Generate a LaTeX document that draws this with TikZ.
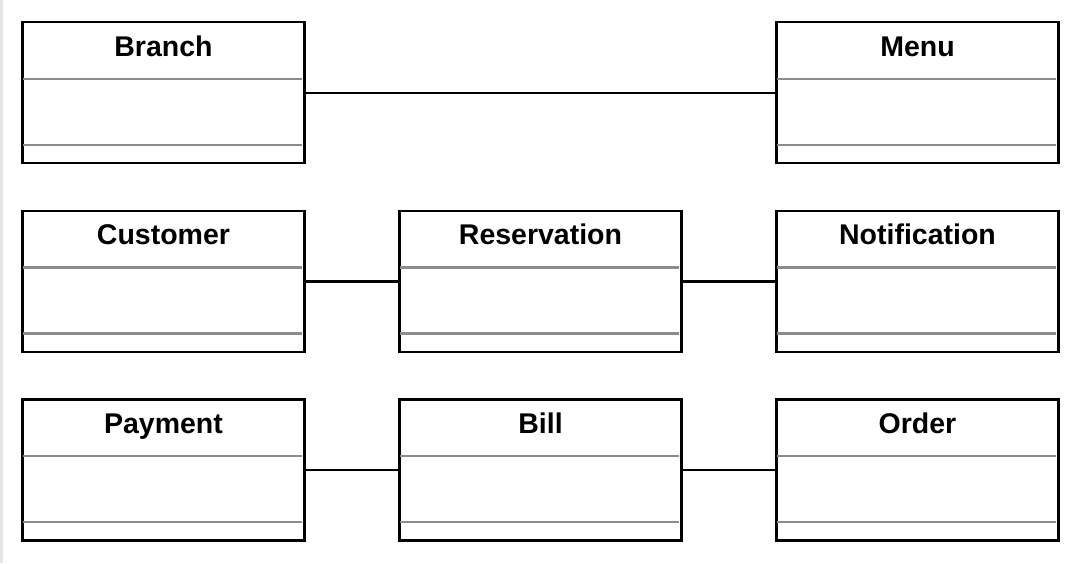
\documentclass[tikz,border=0pt]{standalone}
\usepackage{fontspec}
\setmainfont{Liberation Sans}
\usetikzlibrary{calc}
\tikzset{
  cls/.style={draw=black, line width=2.2pt, fill=white, rectangle, minimum width=282pt, minimum height=141pt, inner sep=0pt, outer sep=0pt, anchor=north west},
  clstitle/.style={anchor=base, inner sep=0pt, font=\fontsize{28.5}{31}\selectfont\bfseries},
  sep/.style={draw=black!45, line width=2.2pt},
  conn/.style={draw=black, line width=2.2pt}
}
\newcommand{\umlbox}[4]{%
  \node[cls] (#1) at (#2,#3) {};
  \node[clstitle] (#1-t) at ($(#1.north)+(0,33.8)$) {#4};
  \draw[sep] ($(#1.north west)+(0,56.5)$) -- ($(#1.north east)+(-2.5,56.5)$);
  \draw[sep] ($(#1.north west)+(0,122.5)$) -- ($(#1.north east)+(-2.5,122.5)$);
}
\begin{document}
\begin{tikzpicture}[x=1pt,y=-1pt]
\useasboundingbox (0,0) rectangle (1081,563);
\fill[black!10] (0,0) rectangle (2.5,563);
\umlbox{branch}{22.5}{22.2}{Branch}
\umlbox{menu}{776.5}{22.2}{Menu}
\umlbox{customer}{22.5}{211}{Customer}
\umlbox{reservation}{399.5}{211}{Reservation}
\umlbox{notification}{776.5}{211}{Notification}
\umlbox{payment}{22.5}{399.5}{Payment}
\umlbox{bill}{399.5}{399.5}{Bill}
\umlbox{order}{776.5}{399.5}{Order}
\draw[conn] (branch) -- (menu);
\draw[conn] (customer) -- (reservation);
\draw[conn] (reservation) -- (notification);
\draw[conn] (payment) -- (bill);
\draw[conn] (bill) -- (order);
\end{tikzpicture}
\end{document}
